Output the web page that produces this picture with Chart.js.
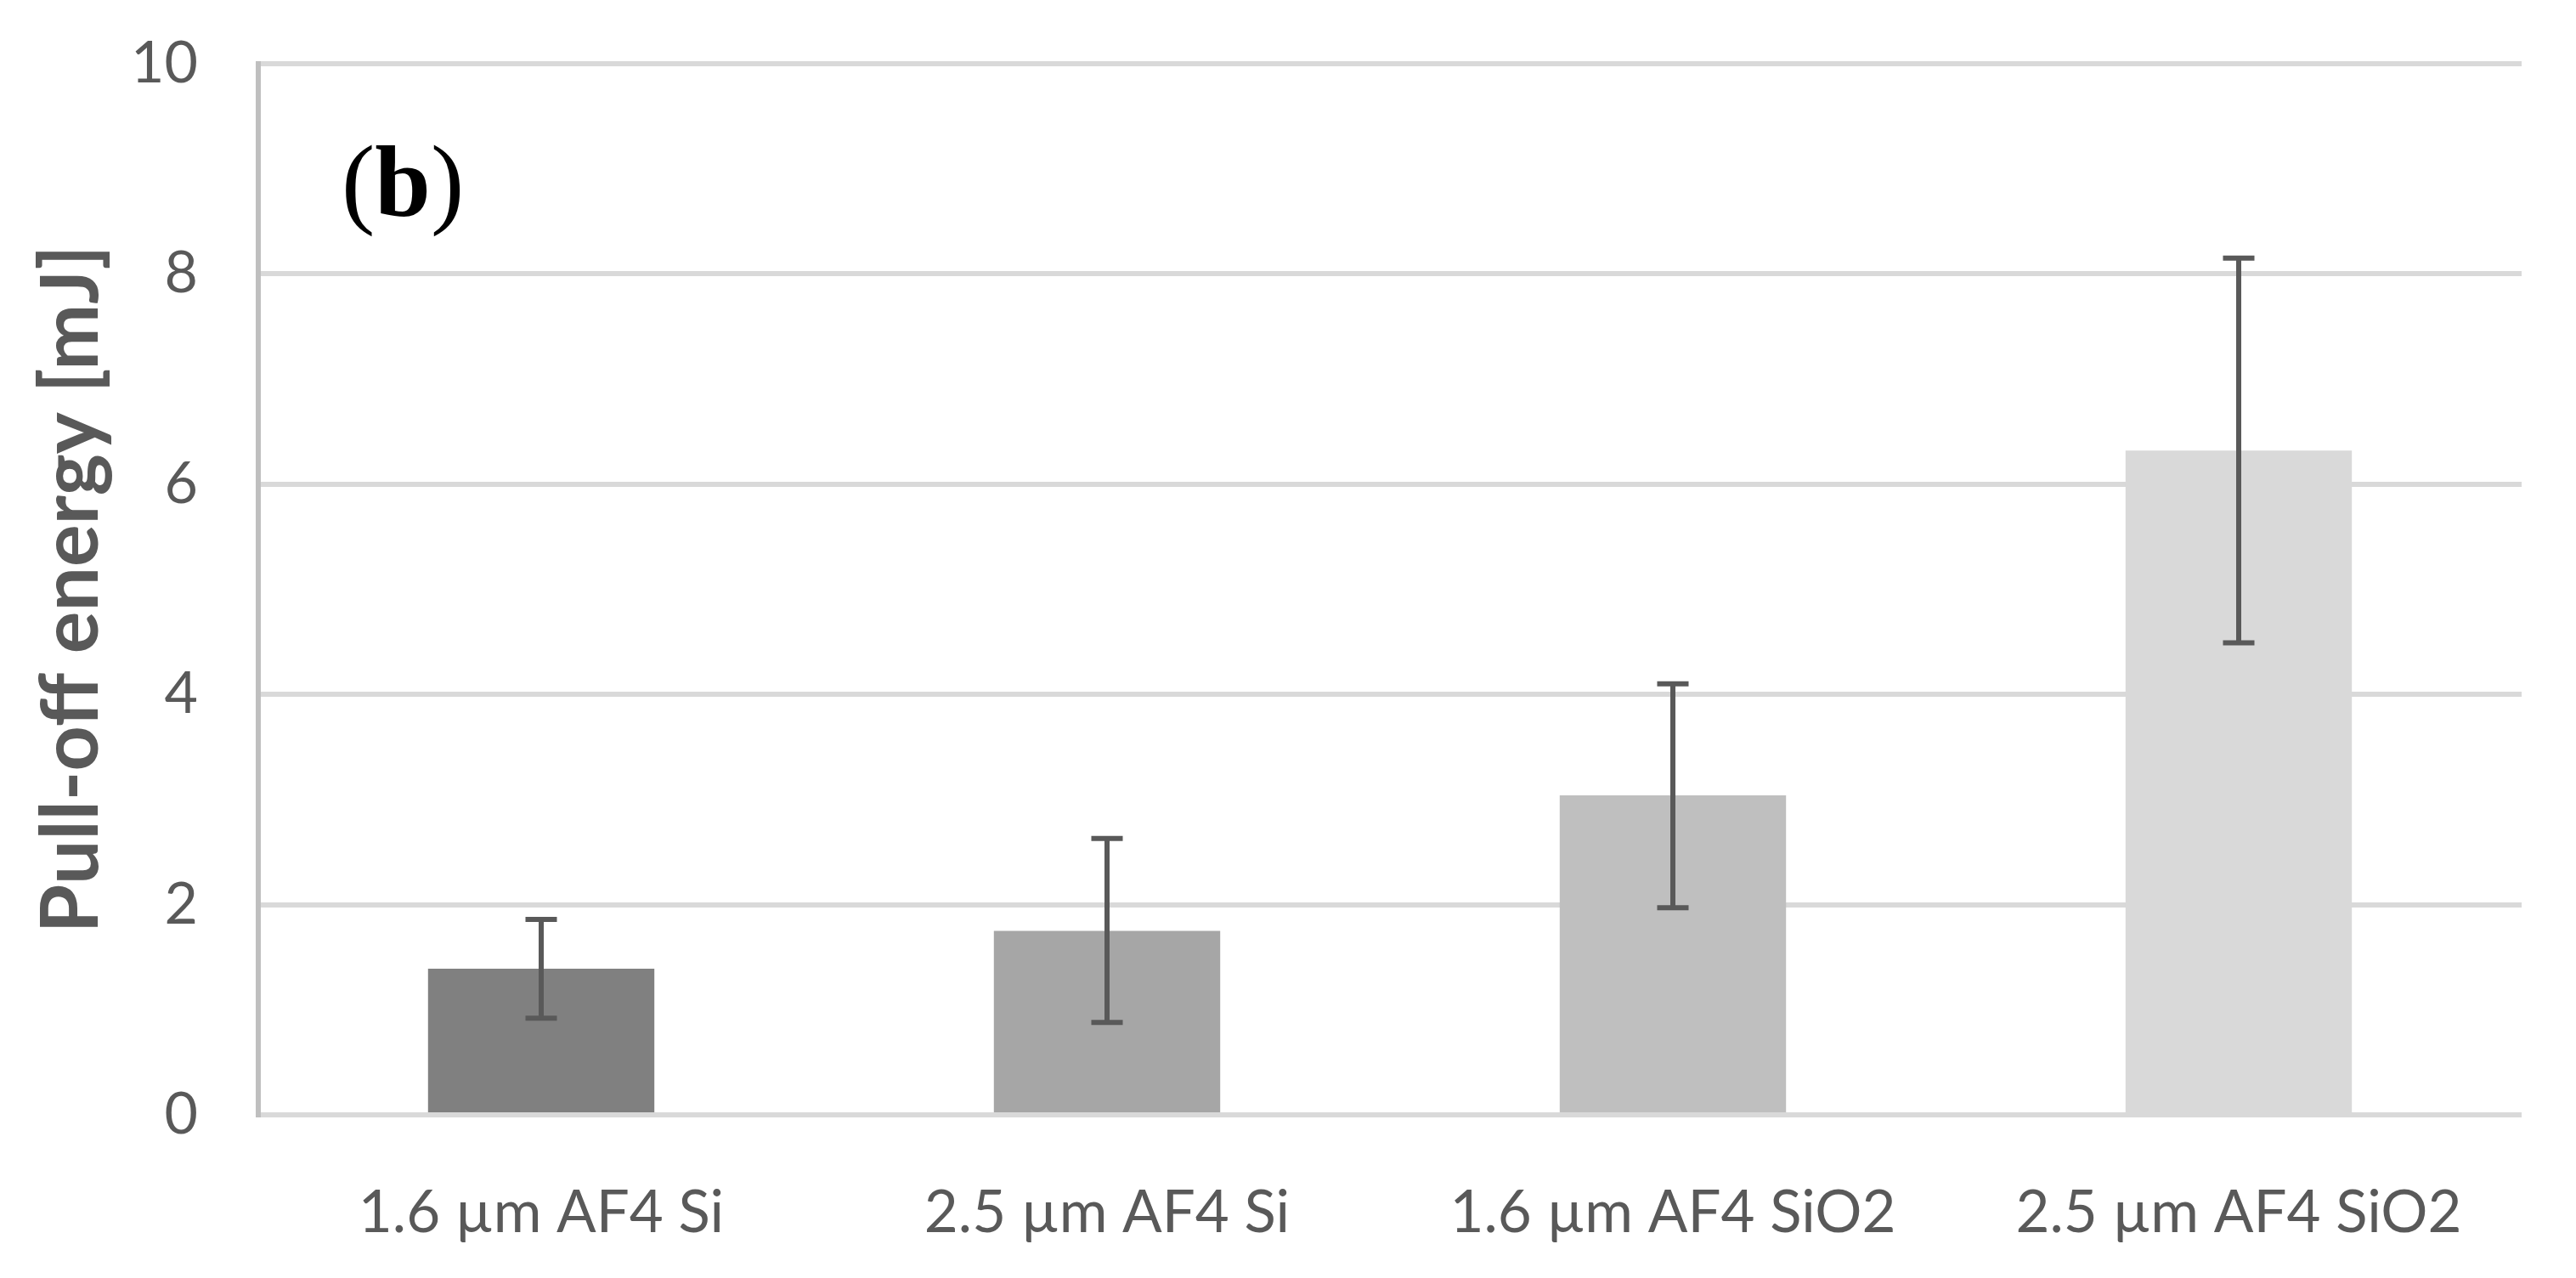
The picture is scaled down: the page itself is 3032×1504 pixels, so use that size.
<!DOCTYPE html>
<html>
<head>
<meta charset="utf-8">
<script src="https://cdn.jsdelivr.net/npm/chart.js@4.4.1/dist/chart.umd.min.js"></script>
<style>
  html, body { margin: 0; padding: 0; background: #fff; }
  #myChart { display: block; }
</style>
</head>
<body>
<canvas id="myChart" width="3032" height="1504"></canvas>
<script>
// values
const categories = ["1.6 µm AF4 Si", "2.5 µm AF4 Si", "1.6 µm AF4 SiO2", "2.5 µm AF4 SiO2"];
const energy = [1.39, 1.75, 3.04, 6.32];
const errHigh = [1.86, 2.63, 4.10, 8.15];
const errLow = [0.92, 0.88, 1.97, 4.49];
const barColors = ["#808080", "#a6a6a6", "#bfbfbf", "#d9d9d9"];
const yMin = 0, yMax = 10, yStep = 2;
const panelLabel = "b";

const textColor = "#595959";
const sans = "Lato, 'Liberation Sans', sans-serif";

// error bars (no built-in support in chart.js)
const errorBars = {
  id: "errorBars",
  afterDatasetsDraw(chart) {
    const ctx = chart.ctx;
    const xs = chart.scales.x, ys = chart.scales.y;
    ctx.save();
    ctx.strokeStyle = textColor;
    ctx.lineWidth = 6;
    ctx.lineCap = "butt";
    for (let i = 0; i < categories.length; i++) {
      const px = xs.getPixelForValue(i);
      const top = ys.getPixelForValue(errHigh[i]);
      const bot = ys.getPixelForValue(errLow[i]);
      ctx.beginPath();
      ctx.moveTo(px, top); ctx.lineTo(px, bot);
      ctx.moveTo(px - 18.5, top); ctx.lineTo(px + 18.5, top);
      ctx.moveTo(px - 18.5, bot); ctx.lineTo(px + 18.5, bot);
      ctx.stroke();
    }
    ctx.restore();
  }
};

// "(b)" panel tag, bold letter between plain brackets
const panelTag = {
  id: "panelTag",
  afterDraw(chart) {
    const ctx = chart.ctx;
    const area = chart.chartArea;
    let x = area.left + 98;
    const y = area.top + 178;
    ctx.save();
    ctx.fillStyle = "#000";
    ctx.textBaseline = "alphabetic";
    const parts = [["(", "normal"], [panelLabel, "bold"], [")", "normal"]];
    for (const [t, w] of parts) {
      ctx.font = w + " 118px 'Liberation Serif', 'DejaVu Serif', serif";
      ctx.fillText(t, x, y);
      x += ctx.measureText(t).width;
    }
    ctx.restore();
  }
};

window.onload = () => {
  const ctx = document.getElementById("myChart");
  new Chart(ctx, {
    type: "bar",
    data: {
      labels: categories,
      datasets: [{
        data: energy,
        backgroundColor: barColors,
        borderWidth: 0,
        barPercentage: 0.4,
        categoryPercentage: 1.0,
      }],
    },
    options: {
      responsive: false,
      animation: false,
      devicePixelRatio: 1,
      layout: { padding: { left: 0, right: 64, top: 75, bottom: 0 } },
      plugins: {
        legend: { display: false },
        tooltip: { enabled: false },
      },
      scales: {
        x: {
          grid: { display: false, drawTicks: false },
          border: { display: false },
          ticks: {
            color: textColor,
            font: { family: sans, size: 69 },
            padding: 74,
            maxRotation: 0,
          },
          afterFit(scale) { scale.height = 192; },
        },
        y: {
          min: yMin,
          max: yMax,
          ticks: {
            stepSize: yStep,
            color: textColor,
            font: { family: sans, size: 68 },
            padding: 0,
          },
          // invisible tick marks give the gap between labels and axis
          grid: {
            color: "#d9d9d9",
            lineWidth: 6,
            drawTicks: true,
            tickLength: 71,
            tickColor: "rgba(0,0,0,0)",
          },
          border: { display: true, color: "#bfbfbf", width: 6 },
          title: {
            display: true,
            text: "Pull-off energy [mJ]",
            color: textColor,
            font: { family: sans, size: 93, weight: "bold" },
            padding: { top: 29, bottom: 0 },
          },
          afterFit(scale) { scale.width = 304; },
        },
      },
    },
    plugins: [errorBars, panelTag],
  });
};
</script>
</body>
</html>
